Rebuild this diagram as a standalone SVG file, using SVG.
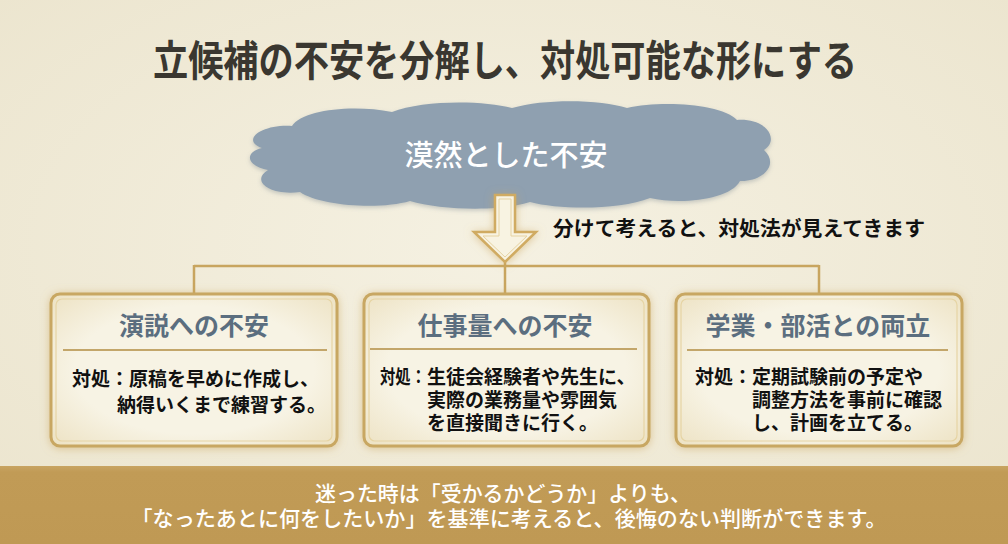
<svg xmlns="http://www.w3.org/2000/svg" width="1008" height="544" viewBox="0 0 1008 544">
<defs>
<radialGradient id="bg" cx="50%" cy="45%" r="75%">
<stop offset="0" stop-color="#f5f1e2"/>
<stop offset="1" stop-color="#ebe4cd"/>
</radialGradient>
<radialGradient id="boxfill" cx="50%" cy="50%" r="70%">
<stop offset="0.6" stop-color="#f7f3e4"/>
<stop offset="1" stop-color="#ede2c3"/>
</radialGradient>
<linearGradient id="banner" x1="0" y1="0" x2="0" y2="1">
<stop offset="0" stop-color="#c8a462"/>
<stop offset="0.08" stop-color="#c19b56"/>
<stop offset="1" stop-color="#bf9954"/>
</linearGradient>
<filter id="glow" x="-20%" y="-20%" width="140%" height="140%">
<feDropShadow dx="0" dy="1" stdDeviation="4" flood-color="#c9a25a" flood-opacity="0.55"/>
</filter>
<filter id="cshadow" x="-10%" y="-20%" width="120%" height="140%">
<feDropShadow dx="0" dy="2" stdDeviation="2" flood-color="#6f7c88" flood-opacity="0.35"/>
</filter>
<style>
.box{fill:url(#boxfill);stroke:#c8a762;stroke-width:3}
.inner{fill:none;stroke:#e6d4a4;stroke-width:1.2}
.sep{stroke:#c3a66a;stroke-width:2}
.btitle{font-family:"Noto Sans CJK JP","Noto Sans",sans-serif;font-weight:bold;font-size:25px;fill:#5b6e7f;text-anchor:middle}
.body{font-family:"Noto Sans CJK JP","Noto Sans",sans-serif;font-weight:bold;font-size:19px;fill:#111}
.conn{stroke:#c8a55f;stroke-width:2.5;fill:none}
</style>
</defs>
<rect width="1008" height="544" fill="url(#bg)"/>

<text x="505" y="76" text-anchor="middle" font-family="Noto Sans CJK JP, sans-serif" font-weight="bold" font-size="42" fill="#3a3730" textLength="704" lengthAdjust="spacingAndGlyphs">立候補の不安を分解し、対処可能な形にする</text>

<g id="cloud">
<path filter="url(#cshadow)" fill="#8fa0b0" d="M 262 148 C 240 140, 262 124, 292 126 C 302 110, 352 104, 392 112 C 422 100, 482 100, 512 108 C 547 98, 602 100, 627 108 C 662 100, 722 104, 737 120 C 767 118, 780 140, 764 150 C 780 165, 762 182, 740 181 C 730 200, 680 205, 650 198 C 620 210, 560 210, 530 202 C 500 212, 440 210, 410 201 C 380 210, 320 206, 300 192 C 270 196, 250 181, 268 170 C 245 165, 245 152, 262 148 Z"/>
<text x="506" y="166" text-anchor="middle" font-family="Noto Sans CJK JP, sans-serif" font-weight="500" font-size="29" fill="#ffffff">漠然とした不安</text>
</g>

<g id="connectors">
<path class="conn" d="M 194 266 H 819 M 194 265 V 293 M 505 262 V 293 M 819 265 V 293"/>
<g filter="url(#glow)">
<polygon points="495,195 515,195 515,232 536,232 505,262 474,232 495,232" fill="#f8f3e2" stroke="#d0ab62" stroke-width="2.5" stroke-linejoin="miter"/>
<polygon points="499,199 511,199 511,236 527,236 505,257 483,236 499,236" fill="none" stroke="#e6d3a2" stroke-width="1"/>
</g>
<text x="553" y="236" font-family="Noto Sans CJK JP, sans-serif" font-weight="bold" font-size="20.5" fill="#111" textLength="372" lengthAdjust="spacingAndGlyphs">分けて考えると、対処法が見えてきます</text>
</g>

<g id="box1">
<rect class="box" filter="url(#glow)" x="51" y="294" width="286" height="152" rx="9"/>
<rect class="inner" x="56" y="299" width="276" height="142" rx="6"/>
<text class="btitle" x="194" y="335">演説への不安</text>
<line class="sep" x1="63" y1="350" x2="327" y2="350"/>
<text class="body" x="72" y="386">対処：原稿を早めに作成し、</text>
<text class="body" x="117" y="412">納得いくまで練習する。</text>
</g>

<g id="box2">
<rect class="box" filter="url(#glow)" x="364" y="294" width="285" height="152" rx="9"/>
<rect class="inner" x="369" y="299" width="275" height="142" rx="6"/>
<text class="btitle" x="505" y="335">仕事量への不安</text>
<line class="sep" x1="370" y1="349" x2="637" y2="349"/>
<text class="body" x="380" y="384" textLength="46" lengthAdjust="spacingAndGlyphs">対処：</text>
<text class="body" x="427" y="384">生徒会経験者や先生に、</text>
<text class="body" x="427" y="407">実際の業務量や雰囲気</text>
<text class="body" x="427" y="430">を直接聞きに行く。</text>
</g>

<g id="box3">
<rect class="box" filter="url(#glow)" x="676" y="294" width="286" height="152" rx="9"/>
<rect class="inner" x="681" y="299" width="276" height="142" rx="6"/>
<text class="btitle" x="818" y="335">学業・部活との両立</text>
<line class="sep" x1="687" y1="350" x2="948" y2="350"/>
<text class="body" x="695" y="384">対処：定期試験前の予定や</text>
<text class="body" x="752" y="407">調整方法を事前に確認</text>
<text class="body" x="752" y="430">し、計画を立てる。</text>
</g>

<g id="banner">
<rect x="0" y="466" width="1008" height="78" fill="url(#banner)"/>
<text x="503" y="501" text-anchor="middle" font-family="Noto Sans CJK JP, sans-serif" font-weight="500" font-size="21" fill="#ffffff" textLength="376" lengthAdjust="spacingAndGlyphs">迷った時は「受かるかどうか」よりも、</text>
<text x="509" y="526" text-anchor="middle" font-family="Noto Sans CJK JP, sans-serif" font-weight="500" font-size="21" fill="#ffffff" textLength="755" lengthAdjust="spacingAndGlyphs">「なったあとに何をしたいか」を基準に考えると、後悔のない判断ができます。</text>
</g>
</svg>
